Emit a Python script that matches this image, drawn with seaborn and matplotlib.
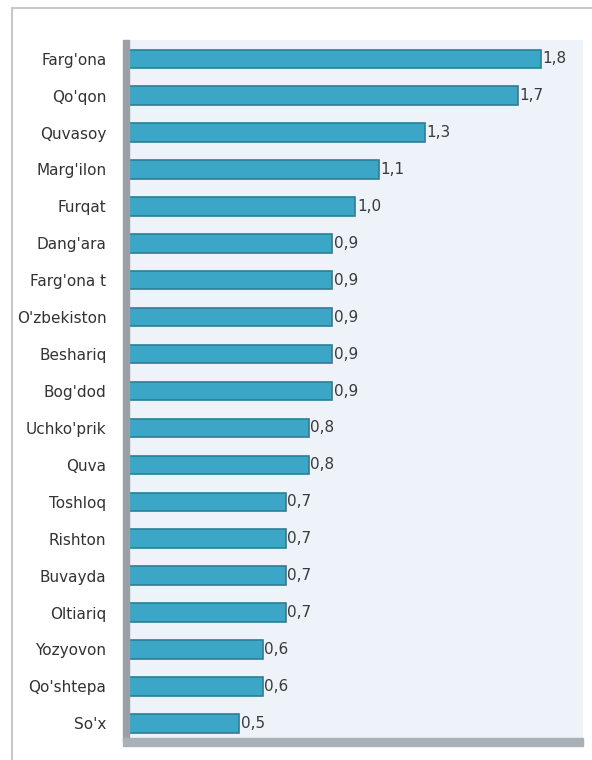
import pandas as pd
import seaborn as sns
import matplotlib.pyplot as plt
from matplotlib.patches import Rectangle

# Districts and their values
districts = [
    "Farg'ona", "Qo'qon", "Quvasoy", "Marg'ilon", "Furqat", "Dang'ara",
    "Farg'ona t", "O'zbekiston", "Beshariq", "Bog'dod", "Uchko'prik", "Quva",
    "Toshloq", "Rishton", "Buvayda", "Oltiariq", "Yozyovon", "Qo'shtepa", "So'x",
]
values = [1.8, 1.7, 1.3, 1.1, 1.0, 0.9, 0.9, 0.9, 0.9, 0.9, 0.8, 0.8,
          0.7, 0.7, 0.7, 0.7, 0.6, 0.6, 0.5]

df = pd.DataFrame({"district": districts, "value": values})

sns.set_style("white")
plt.rcParams["font.family"] = ["Liberation Sans Narrow", "DejaVu Sans"]

fig = plt.figure(figsize=(5.92, 7.60), dpi=100)
ax = fig.add_axes([0.208, 0.024, 0.777, 0.923])
ax.set_facecolor("#edf3f9")

sns.barplot(data=df, x="value", y="district", orient="h", color="#3ba6c6",
            saturation=1, width=0.5, edgecolor="#2b7f98", linewidth=1.2, ax=ax)

labels = [f"{v:.1f}".replace(".", ",") for v in values]
ax.bar_label(ax.containers[0], labels=labels, padding=1, fontsize=11,
             color="#3a3a3a")

ax.set_xlim(0, 1.98)
ax.set_ylim(len(districts) - 0.5, -0.5)
ax.set_xlabel("")
ax.set_ylabel("")
ax.set_xticks([])
ax.tick_params(axis="y", length=0, pad=12, labelsize=11, labelcolor="#333333")
for s in ax.spines.values():
    s.set_visible(False)

# left wall and floor in grey
ax.add_patch(Rectangle((0, 0), 0.012, 1, transform=ax.transAxes,
                       color="#9aa0a4", clip_on=False, zorder=3))
ax.add_patch(Rectangle((0, -0.006), 1, 0.012, transform=ax.transAxes,
                       color="#aab1b6", clip_on=False, zorder=3))

# outer frame lines (top and left)
fig.add_artist(plt.Line2D([12 / 592, 1], [1 - 8 / 760, 1 - 8 / 760],
                          color="#c8c8c8", lw=1.5))
fig.add_artist(plt.Line2D([12 / 592, 12 / 592], [0, 1 - 8 / 760],
                          color="#c8c8c8", lw=1.5))

fig.savefig("out.png", dpi=100, facecolor="white")
